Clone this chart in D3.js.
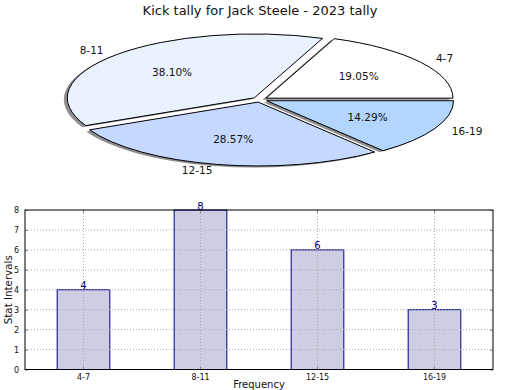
<!DOCTYPE html>
<html><head><meta charset="utf-8">
<script src="https://cdn.jsdelivr.net/npm/d3@7"></script>
<style>body{margin:0;background:#fff}svg{display:block;font-family:"DejaVu Sans",sans-serif}</style>
</head><body><svg id="c" width="520" height="390"></svg>
<script>
const title = "Kick tally for Jack Steele - 2023 tally";
const categories = ["4-7", "8-11", "12-15", "16-19"];
const counts = [4, 8, 6, 3];
const pieColors = ["#ffffff", "#eaf1ff", "#c5d8ff", "#b3d6ff"];
const yTicks = [0, 1, 2, 3, 4, 5, 6, 7, 8];
const yLabel = "Stat Intervals";
const xLabel = "Frequency";

const svg = d3.select("#c");
svg.append("text").attr("x", 260).attr("y", 15).attr("text-anchor", "middle")
  .attr("font-size", 13).attr("fill", "#111").text(title);

// ---- Pie (flattened) ----
const cx = 259.8, cy = 99.6, rx = 187, ry = 63.9, ex = 0.04;
const total = d3.sum(counts);
const pie = d3.pie().sort(null).startAngle(Math.PI / 2).endAngle(Math.PI / 2 - 2 * Math.PI);
const arcs = pie(counts);
const arc = d3.arc().innerRadius(0).outerRadius(1);
const pg = svg.append("g");
function pos(d, r) {
  const m = (d.startAngle + d.endAngle) / 2;
  return [cx + r * Math.sin(m) * rx, cy - r * Math.cos(m) * ry, Math.sin(m)];
}
// shadows
pg.selectAll("path.sh").data(arcs).join("path").attr("class", "sh")
  .attr("d", arc)
  .attr("transform", d => { const p = pos(d, ex); return `translate(${p[0] - 3.5},${p[1] + 1.6}) scale(${rx},${ry})`; })
  .attr("fill", "#8f8f8f");
pg.selectAll("path.w").data(arcs).join("path").attr("class", "w")
  .attr("d", arc)
  .attr("transform", d => { const p = pos(d, ex); return `translate(${p[0]},${p[1]}) scale(${rx},${ry})`; })
  .attr("fill", (d, i) => pieColors[i]).attr("stroke", "#000").attr("stroke-width", 1)
  .attr("vector-effect", "non-scaling-stroke").attr("stroke-linejoin", "miter");
pg.selectAll("text.lab").data(arcs).join("text").attr("class", "lab")
  .each(function (d, i) {
    const p = pos(d, 1.1 + ex);
    d3.select(this).attr("x", p[0]).attr("y", p[1]).attr("dy", "0.36em")
      .attr("text-anchor", p[2] > 0 ? "start" : "end").attr("font-size", 10.5).attr("fill", "#111")
      .text(categories[i]);
  });
pg.selectAll("text.pct").data(arcs).join("text").attr("class", "pct")
  .each(function (d, i) {
    const p = pos(d, 0.6 + ex);
    d3.select(this).attr("x", p[0]).attr("y", p[1]).attr("dy", "0.36em")
      .attr("text-anchor", "middle").attr("font-size", 10.5).attr("fill", "#111")
      .text((counts[i] / total * 100).toFixed(2) + "%");
  });

// ---- Bar chart ----
const L = 25, R = 493, T = 210, B = 369.5;
const x = d3.scaleBand().domain(categories).range([L, R]).paddingInner(0.55).paddingOuter(0.275);
const y = d3.scaleLinear().domain([0, 8]).range([B, T]);
const bg = svg.append("g");
bg.selectAll("rect.bar").data(counts).join("rect").attr("class", "bar")
  .attr("x", (d, i) => x(categories[i])).attr("width", x.bandwidth())
  .attr("y", d => y(d)).attr("height", d => B - y(d))
  .attr("fill", "#cdcde4").attr("stroke", "#000080").attr("stroke-width", 1);
// grid
bg.selectAll("line.gy").data(yTicks.slice(1, -1)).join("line").attr("class", "gy")
  .attr("x1", L).attr("x2", R).attr("y1", d => y(d)).attr("y2", d => y(d))
  .attr("stroke", "#aaa").attr("stroke-dasharray", "1,2");
bg.selectAll("line.gx").data(categories).join("line").attr("class", "gx")
  .attr("y1", T).attr("y2", B).attr("x1", d => x(d) + x.bandwidth() / 2).attr("x2", d => x(d) + x.bandwidth() / 2)
  .attr("stroke", "#aaa").attr("stroke-dasharray", "1,2");
// axes
const yAx = d3.axisLeft(y).tickValues(yTicks).tickSize(-3).tickPadding(6);
bg.append("g").attr("transform", `translate(${L},0)`).call(yAx)
  .call(g => { g.select(".domain").remove(); g.selectAll("line").attr("stroke", "#888");
    g.selectAll("text").attr("font-size", 8).attr("font-family", "DejaVu Sans").attr("fill", "#111"); });
bg.append("g").attr("transform", `translate(${R},0)`).call(d3.axisRight(y).tickValues(yTicks).tickSize(-3).tickFormat(""))
  .call(g => { g.select(".domain").remove(); g.selectAll("line").attr("stroke", "#888"); });
const xAx = d3.axisBottom(x).tickSize(-3).tickPadding(5);
bg.append("g").attr("transform", `translate(0,${B})`).call(xAx)
  .call(g => { g.select(".domain").remove(); g.selectAll("line").attr("stroke", "#888");
    g.selectAll("text").attr("font-size", 8).attr("font-family", "DejaVu Sans").attr("fill", "#111"); });
bg.append("g").attr("transform", `translate(0,${T})`).call(d3.axisTop(x).tickSize(-3).tickFormat(""))
  .call(g => { g.select(".domain").remove(); g.selectAll("line").attr("stroke", "#888"); });
bg.append("rect").attr("x", L).attr("y", T).attr("width", R - L).attr("height", B - T)
  .attr("fill", "none").attr("stroke", "#000").attr("stroke-width", 1);
// value labels
bg.selectAll("text.val").data(counts).join("text").attr("class", "val")
  .attr("x", (d, i) => x(categories[i]) + x.bandwidth() / 2).attr("y", d => y(d) - 0.5)
  .attr("text-anchor", "middle").attr("font-size", 10).attr("fill", "#000080").text(d => d);
svg.append("text").attr("transform", `translate(12,${(T + B) / 2}) rotate(-90)`)
  .attr("text-anchor", "middle").attr("font-size", 10.3).attr("fill", "#111").text(yLabel);
svg.append("text").attr("x", (L + R) / 2).attr("y", 387.5).attr("text-anchor", "middle")
  .attr("font-size", 10).attr("fill", "#111").text(xLabel);
</script></body></html>
